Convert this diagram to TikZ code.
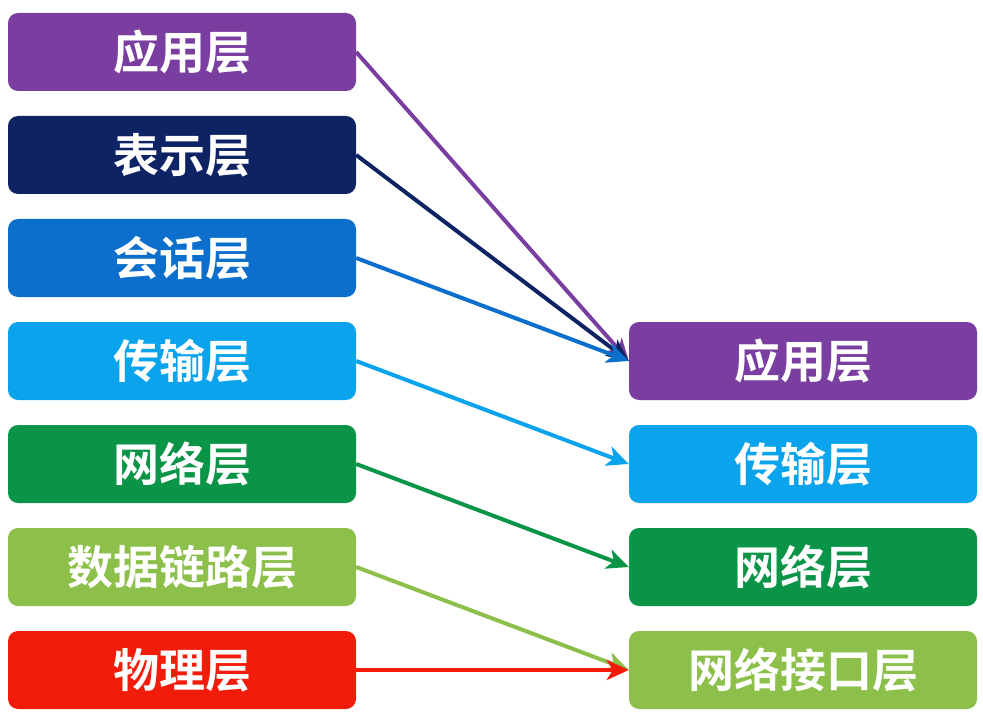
\documentclass[tikz,border=0pt]{standalone}
\usepackage{fontspec}
\setmainfont{Noto Sans CJK SC Bold}[BoldFont=*]
\usetikzlibrary{arrows.meta}
\definecolor{cA}{HTML}{7A3EA1}
\definecolor{cB}{HTML}{0D2364}
\definecolor{cC}{HTML}{0B6FCB}
\definecolor{cD}{HTML}{0AA3EC}
\definecolor{cE}{HTML}{0A9447}
\definecolor{cF}{HTML}{8CC04B}
\definecolor{cG}{HTML}{F21C0A}
\tikzset{
  layer/.style={rounded corners=10pt, minimum width=348pt, minimum height=78pt, inner sep=0pt, text=white, font=\fontsize{46}{50}\selectfont, fill=#1},
  conn/.style={draw=#1, line width=4pt, -{Stealth[length=22pt,width=20pt,inset=6pt]}}
}
\begin{document}
\begin{tikzpicture}[x=1pt,y=-1pt]
\useasboundingbox (0,0) rectangle (983,714);
\node[layer=cA] (l1) at (182,52) {应用层};
\node[layer=cB] (l2) at (182,155) {表示层};
\node[layer=cC] (l3) at (182,258) {会话层};
\node[layer=cD] (l4) at (182,361) {传输层};
\node[layer=cE] (l5) at (182,464) {网络层};
\node[layer=cF] (l6) at (182,567) {数据链路层};
\node[layer=cG] (l7) at (182,670) {物理层};
\node[layer=cA] (r1) at (803,361) {应用层};
\node[layer=cD] (r2) at (803,464) {传输层};
\node[layer=cE] (r3) at (803,567) {网络层};
\node[layer=cF] (r4) at (803,670) {网络接口层};
\draw[conn=cA] (l1.east) -- (r1.west);
\draw[conn=cB] (l2.east) -- (r1.west);
\draw[conn=cC] (l3.east) -- (r1.west);
\draw[conn=cD] (l4.east) -- (r2.west);
\draw[conn=cE] (l5.east) -- (r3.west);
\draw[conn=cF] (l6.east) -- (r4.west);
\draw[conn=cG] (l7.east) -- (r4.west);
\end{tikzpicture}
\end{document}
